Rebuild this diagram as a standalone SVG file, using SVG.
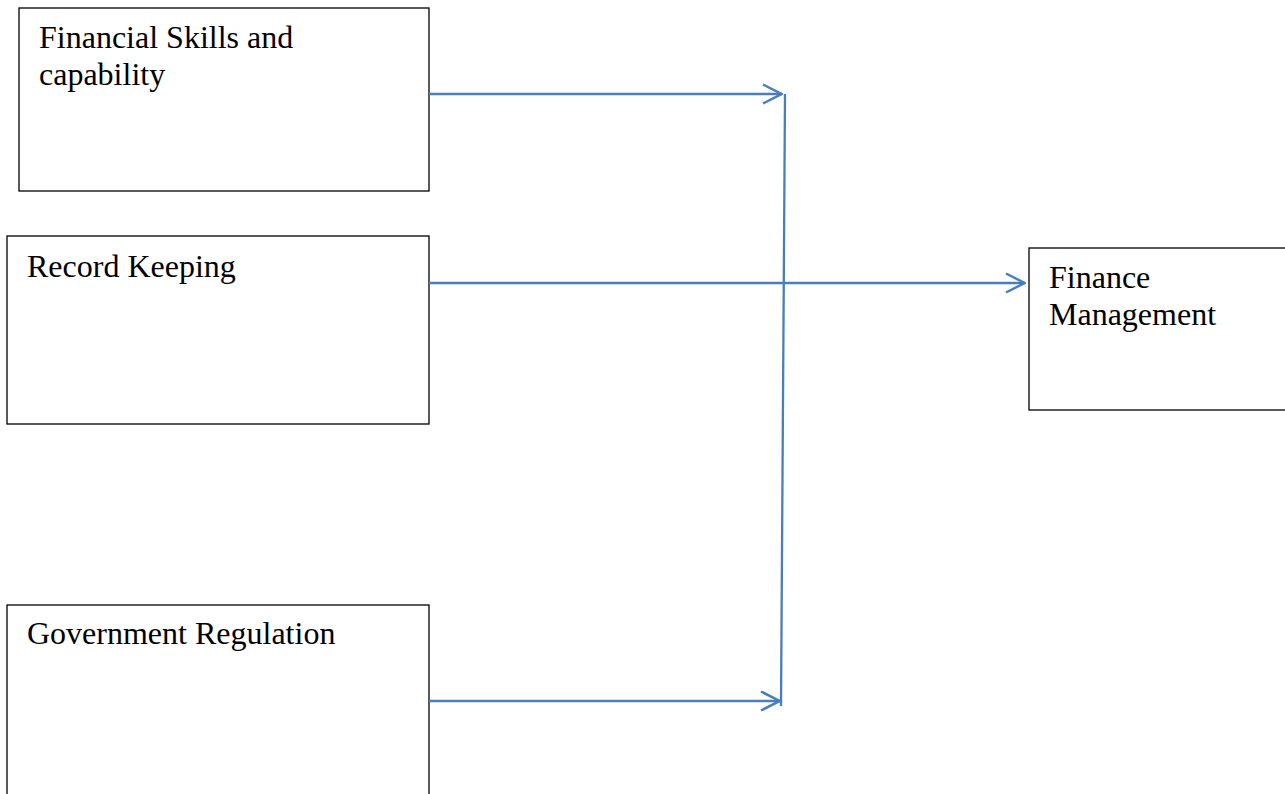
<svg xmlns="http://www.w3.org/2000/svg" width="1285" height="794" viewBox="0 0 1285 794">
<style>
.box{fill:#fff;stroke:#000;stroke-width:1.3}
.lbl{font-family:"Liberation Serif","Times New Roman",serif;font-size:32px;fill:#000}
.con{fill:none;stroke:#4a7ebb;stroke-width:2.3}
</style>
<defs>
<marker id="arr" viewBox="0 0 22 22" refX="21" refY="11" markerWidth="22" markerHeight="22" markerUnits="userSpaceOnUse" orient="auto">
<path d="M2,1.5 L20.5,11 L2,20.5" fill="none" stroke="#4a7ebb" stroke-width="2.5"/>
</marker>
</defs>
<rect width="1285" height="794" fill="#fff"/>
<g id="n1">
<rect class="box" x="19" y="8" width="410" height="183"/>
<text class="lbl" x="39" y="48">Financial Skills and</text>
<text class="lbl" x="39" y="85">capability</text>
</g>
<g id="n2">
<rect class="box" x="7" y="236" width="422" height="188"/>
<text class="lbl" x="27" y="277">Record Keeping</text>
</g>
<g id="n3">
<rect class="box" x="7" y="605" width="422" height="200"/>
<text class="lbl" x="27" y="644">Government Regulation</text>
</g>
<g id="n4">
<rect class="box" x="1029" y="248" width="270" height="162"/>
<text class="lbl" x="1049" y="288">Finance</text>
<text class="lbl" x="1049" y="325">Management</text>
</g>
<g id="connectors">
<line class="con" x1="429" y1="94" x2="782" y2="94" marker-end="url(#arr)"/>
<line class="con" x1="785" y1="94" x2="781" y2="706"/>
<line class="con" x1="429" y1="283" x2="1025" y2="283" marker-end="url(#arr)"/>
<line class="con" x1="429" y1="701" x2="780" y2="701" marker-end="url(#arr)"/>
</g>
</svg>
